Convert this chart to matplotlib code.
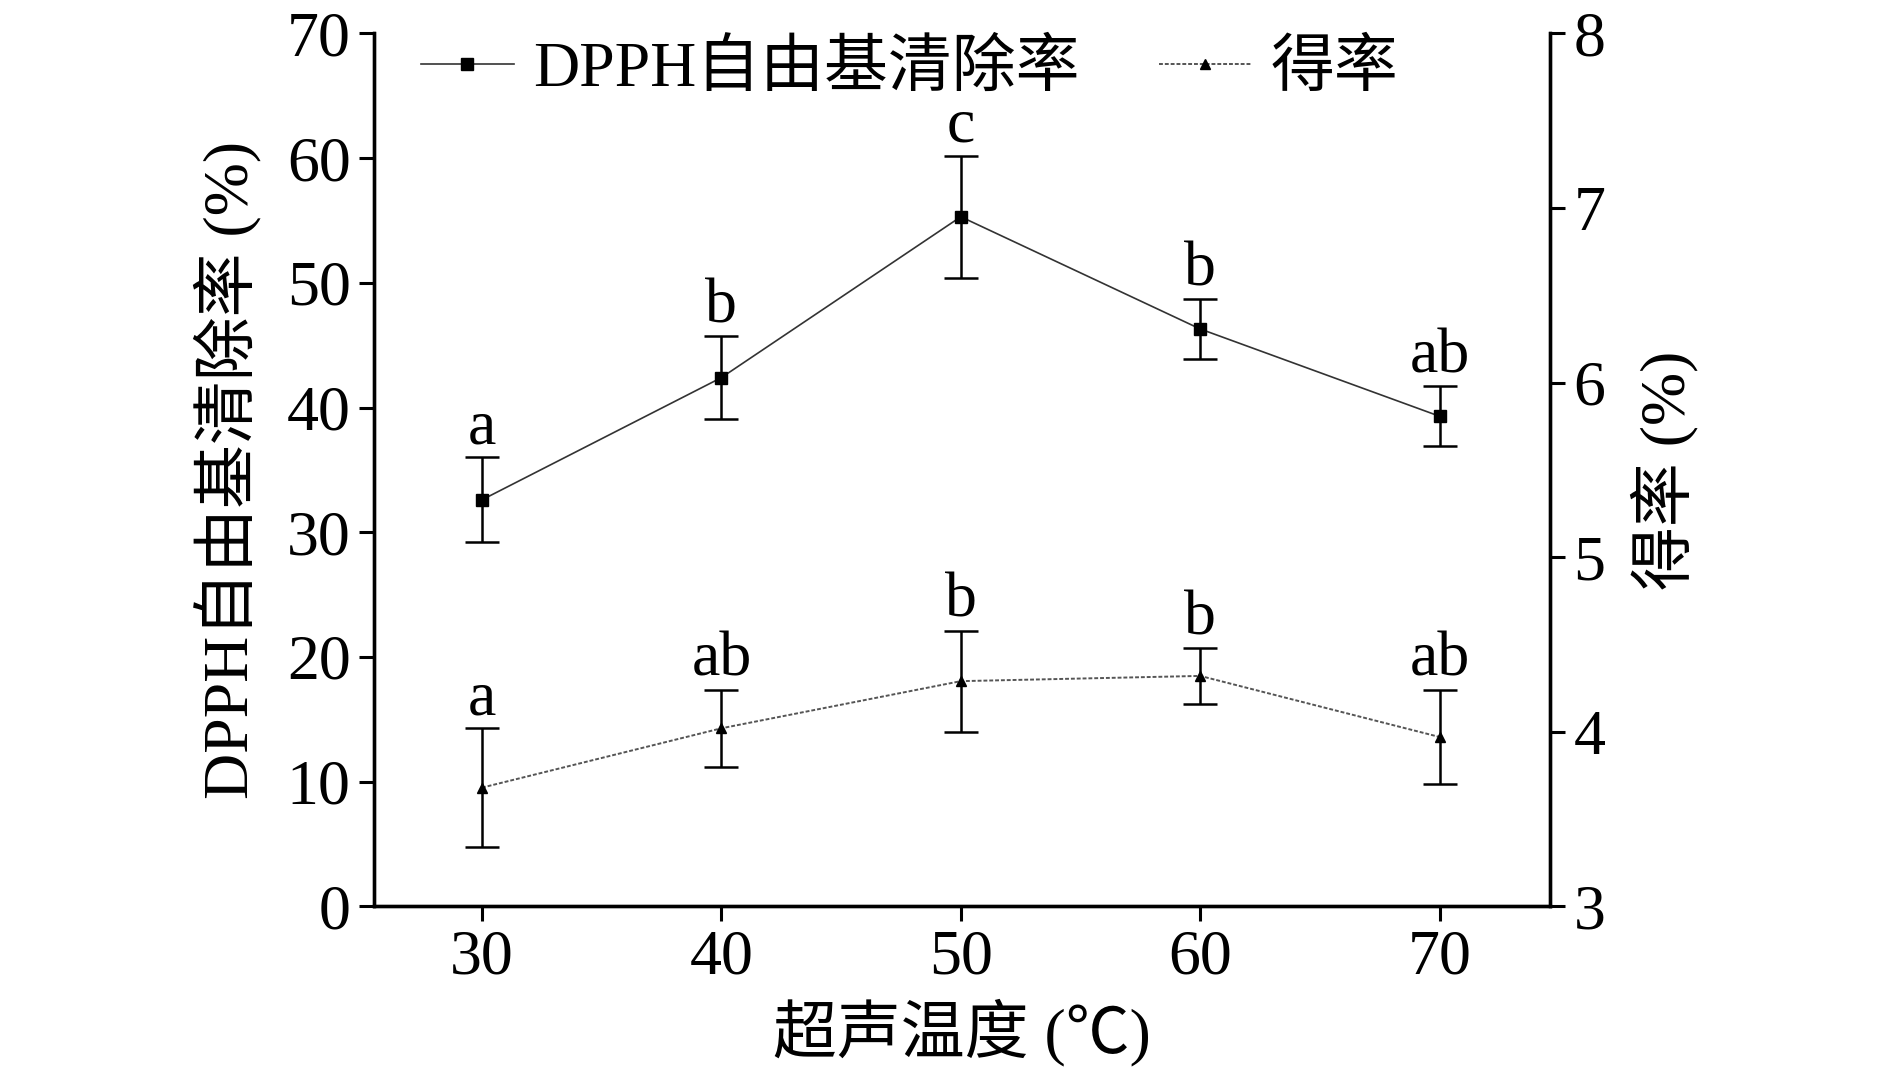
import numpy as np
import matplotlib
matplotlib.use("Agg")
import matplotlib.pyplot as plt
from matplotlib.lines import Line2D

plt.rcParams['font.family'] = ['Liberation Serif', 'Noto Sans CJK SC', 'DejaVu Sans']
plt.rcParams['font.size'] = 46

temps = [30, 40, 50, 60, 70]
dpph = [32.6, 42.4, 55.3, 46.3, 39.3]
dpph_err = [3.4, 3.3, 4.9, 2.4, 2.4]
dpph_letters = ["a", "b", "c", "b", "ab"]
yield_pct = [3.68, 4.02, 4.29, 4.32, 3.97]
yield_err = [0.34, 0.22, 0.29, 0.16, 0.27]
yield_letters = ["a", "ab", "b", "b", "ab"]

fig = plt.figure(figsize=(18.9, 10.79), dpi=100)
ax = fig.add_axes([0.198, 0.160, 0.622, 0.809])
ax2 = ax.twinx()

dpph_style = dict(color="#333333", lw=1.2, marker="s", ms=8, mfc="black", mec="black")
yield_style = dict(color="#555555", lw=1.4, ls=(0, (2, 1)), marker="^", ms=7,
                   mfc="black", mec="black")

ax.errorbar(temps, dpph, yerr=dpph_err, ecolor="black", elinewidth=1.8,
            capsize=12, capthick=1.8, **dpph_style)
ax2.errorbar(temps, yield_pct, yerr=yield_err, ecolor="black", elinewidth=1.8,
             capsize=12, capthick=1.8, **yield_style)

for x, y, e, t in zip(temps, dpph, dpph_err, dpph_letters):
    ax.annotate(t, (x, y + e), xytext=(0, 10), textcoords="offset points",
                ha="center", va="baseline", fontsize=46)
for x, y, e, t in zip(temps, yield_pct, yield_err, yield_letters):
    ax2.annotate(t, (x, y + e), xytext=(0, 10), textcoords="offset points",
                 ha="center", va="baseline", fontsize=46)

ax.set_xlim(25.5, 74.6)
ax.set_ylim(0, 70)
ax.set_yticks(np.arange(0, 71, 10))
ax.set_xticks(temps)
ax2.set_ylim(3, 8)
ax2.set_yticks(range(3, 9))

for a in (ax, ax2):
    a.spines['top'].set_visible(False)
    for s in a.spines.values():
        s.set_linewidth(2.4)
    a.tick_params(width=2.2, length=11, direction="out", pad=6)

ax.set_ylabel("DPPH自由基清除率 (%)", labelpad=18)
ax2.set_ylabel("得率 (%)", labelpad=18)
ax.set_xlabel("超声温度 (℃)", labelpad=8)

h1 = Line2D([], [], **dpph_style)
h2 = Line2D([], [], **yield_style)
ax.legend([h1, h2], ["DPPH自由基清除率", "得率"], ncol=2, frameon=False,
          loc="upper left", bbox_to_anchor=(0.018, 1.021),
          handlelength=1.45, handletextpad=0.3, columnspacing=1.25,
          borderaxespad=0)

fig.savefig("out.png", dpi=100)
